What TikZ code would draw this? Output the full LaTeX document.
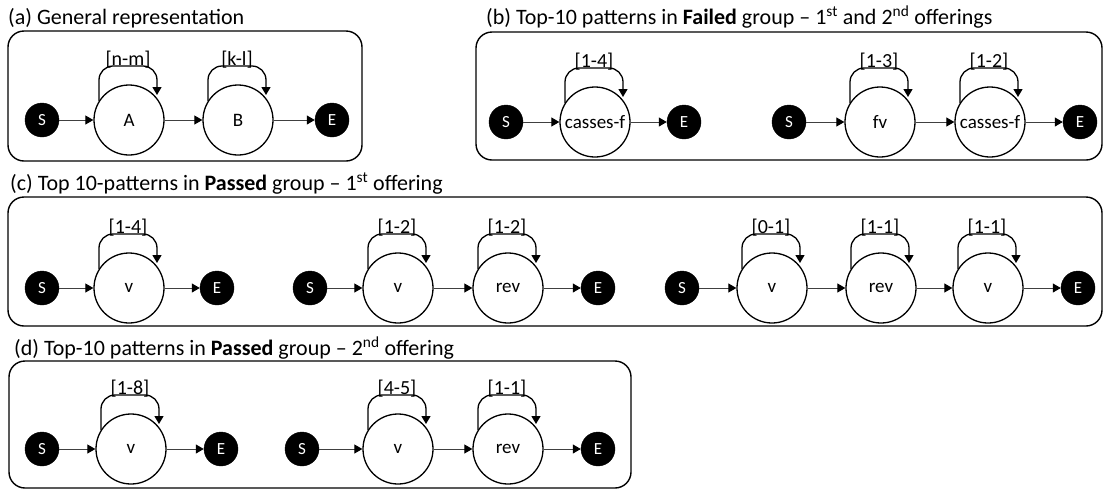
\documentclass[tikz,border=0pt]{standalone}
\usepackage{fontspec}
\setmainfont{Carlito}
\usetikzlibrary{arrows.meta}

% self-loop above a state node: #1 node, #2 label text, #3 label node name
\newcommand\stateloop[3]{%
  \draw[selfloop] ([shift={(-30,-19)}]#1.center) -- ([shift={(-30,-54)}]#1.center)
     -- ([shift={(28,-54)}]#1.center) -- ([shift={(28,-25)}]#1.center);
  \node[lbl, anchor=south] (#3) at ([shift={(-1,-52)}]#1.center) {#2};}

\begin{document}
\begin{tikzpicture}[x=1pt,y=-1pt,
  panel/.style={draw, line width=1.4pt, rounded corners=16pt},
  ttl/.style={anchor=base west, inner sep=0pt, font=\fontsize{22}{26}\selectfont},
  term/.style={circle, fill=black, draw=black, minimum size=34pt, inner sep=0pt,
    text=white, font=\fontsize{17}{20}\selectfont},
  st/.style={circle, draw=black, line width=1.3pt, fill=white, minimum size=70pt,
    inner sep=0pt, font=\fontsize{19}{23}\selectfont},
  arr/.style={draw=black!75, line width=1pt,
    -{Triangle[length=8pt,width=9pt,color=black]}},
  selfloop/.style={draw=black, line width=1.3pt, rounded corners=14pt,
    -{Triangle[length=8pt,width=9pt,color=black]}},
  lbl/.style={inner sep=0pt, font=\fontsize{20}{24}\selectfont},
]
\useasboundingbox (0,0) rectangle (1104,491);

% ---------- titles ----------
\node[ttl] (ta) at (8,24) {(a) General representation};
\node[ttl] (tb) at (486,24) {(b) Top-10 patterns in \textbf{Failed} group -- 1\textsuperscript{st} and 2\textsuperscript{nd} offerings};
\node[ttl] (tc) at (10,190) {(c) Top 10-patterns in \textbf{Passed} group -- 1\textsuperscript{st} offering};
\node[ttl] (td) at (14,355) {(d) Top-10 patterns in \textbf{Passed} group -- 2\textsuperscript{nd} offering};

% ---------- frames ----------
\draw[panel] (8,31) rectangle (362,161);
\draw[panel] (476,32) rectangle (1102,160);
\draw[panel] (8,197) rectangle (1102,326);
\draw[panel] (9,361) rectangle (631,488);

% ---------- (a) ----------
\node[term] (aS) at (42,120) {S};
\node[st]   (aA) at (129,120) {A};
\node[st]   (aB) at (238,120) {B};
\node[term] (aE) at (332,120) {E};
\draw[arr] (aS) -- (aA);
\draw[arr] (aA) -- (aB);
\draw[arr] (aB) -- (aE);
\stateloop{aA}{[n-m]}{laA}
\stateloop{aB}{[k-l]}{laB}

% ---------- (b) ----------
\node[term] (b1S) at (506,122) {S};
\node[st]   (b1C) at (595,122) {casses-f};
\node[term] (b1E) at (684,122) {E};
\draw[arr] (b1S) -- (b1C);
\draw[arr] (b1C) -- (b1E);
\stateloop{b1C}{[1-4]}{lb1C}

\node[term] (b2S) at (789,122) {S};
\node[st]   (b2F) at (880,122) {fv};
\node[st]   (b2C) at (990,122) {casses-f};
\node[term] (b2E) at (1080,122) {E};
\draw[arr] (b2S) -- (b2F);
\draw[arr] (b2F) -- (b2C);
\draw[arr] (b2C) -- (b2E);
\stateloop{b2F}{[1-3]}{lb2F}
\stateloop{b2C}{[1-2]}{lb2C}

% ---------- (c) ----------
\node[term] (c1S) at (42,288) {S};
\node[st]   (c1V) at (129,288) {v};
\node[term] (c1E) at (217,288) {E};
\draw[arr] (c1S) -- (c1V);
\draw[arr] (c1V) -- (c1E);
\stateloop{c1V}{[1-4]}{lc1V}

\node[term] (c2S) at (310,288) {S};
\node[st]   (c2V) at (398,288) {v};
\node[st]   (c2R) at (508,288) {rev};
\node[term] (c2E) at (598,288) {E};
\draw[arr] (c2S) -- (c2V);
\draw[arr] (c2V) -- (c2R);
\draw[arr] (c2R) -- (c2E);
\stateloop{c2V}{[1-2]}{lc2V}
\stateloop{c2R}{[1-2]}{lc2R}

\node[term] (c3S) at (682,288) {S};
\node[st]   (c3V) at (772,288) {v};
\node[st]   (c3R) at (881,288) {rev};
\node[st]   (c3W) at (988,288) {v};
\node[term] (c3E) at (1078,288) {E};
\draw[arr] (c3S) -- (c3V);
\draw[arr] (c3V) -- (c3R);
\draw[arr] (c3R) -- (c3W);
\draw[arr] (c3W) -- (c3E);
\stateloop{c3V}{[0-1]}{lc3V}
\stateloop{c3R}{[1-1]}{lc3R}
\stateloop{c3W}{[1-1]}{lc3W}

% ---------- (d) ----------
\node[term] (d1S) at (42,449) {S};
\node[st]   (d1V) at (131,449) {v};
\node[term] (d1E) at (221,449) {E};
\draw[arr] (d1S) -- (d1V);
\draw[arr] (d1V) -- (d1E);
\stateloop{d1V}{[1-8]}{ld1V}

\node[term] (d2S) at (302,449) {S};
\node[st]   (d2V) at (398,449) {v};
\node[st]   (d2R) at (508,449) {rev};
\node[term] (d2E) at (598,449) {E};
\draw[arr] (d2S) -- (d2V);
\draw[arr] (d2V) -- (d2R);
\draw[arr] (d2R) -- (d2E);
\stateloop{d2V}{[4-5]}{ld2V}
\stateloop{d2R}{[1-1]}{ld2R}
\end{tikzpicture}
\end{document}
